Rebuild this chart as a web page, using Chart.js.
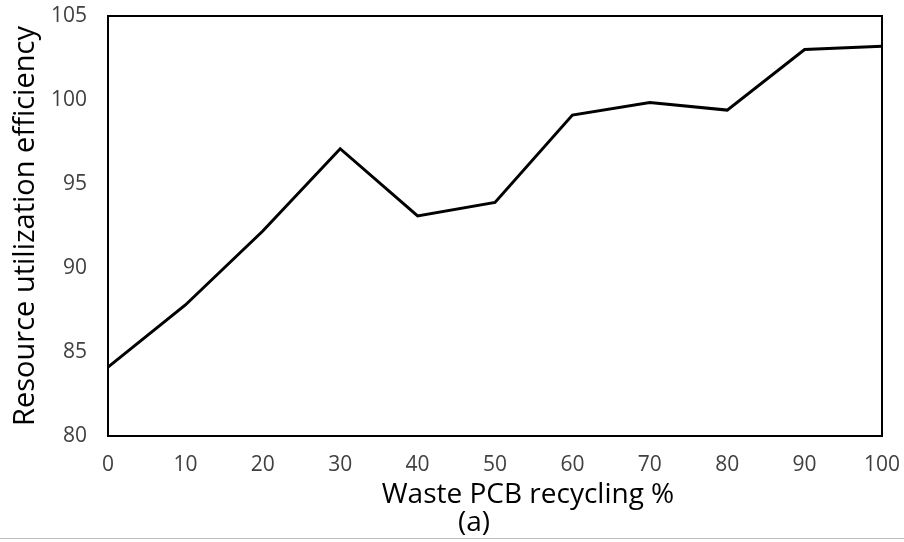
<!DOCTYPE html>
<html>
<head>
<meta charset="utf-8">
<script src="https://cdn.jsdelivr.net/npm/chart.js@4"></script>
<style>
  html, body { margin: 0; padding: 0; background: #fff; }
  #wrap { position: relative; width: 904px; height: 542px; }
  #rule { position: absolute; left: 0; top: 538px; width: 904px; height: 1px; background: #bdbdbd; }
</style>
</head>
<body>
<div id="wrap">
  <canvas id="c" width="904" height="542"></canvas>
  <div id="rule"></div>
</div>
<script>
const recyclingPct = ['0', '10', '20', '30', '40', '50', '60', '70', '80', '90', '100'];
const efficiency = [84.1, 87.8, 92.2, 97.1, 93.1, 93.9, 99.1, 99.85, 99.4, 103.0, 103.2];
const yTicks = [80, 85, 90, 95, 100, 105];
const xTitleLines = ['Waste PCB recycling %', '(a)'];

const FONT = "'Open Sans', 'DejaVu Sans', sans-serif";

const boxPlugin = {
  id: 'box',
  afterDraw(chart) {
    const a = chart.chartArea, ctx = chart.ctx;
    ctx.save();
    ctx.strokeStyle = '#000';
    ctx.lineWidth = 2;
    ctx.strokeRect(a.left, a.top, a.right - a.left, a.bottom - a.top);
    const cx = (a.left + a.right) / 2;
    ctx.fillStyle = '#000';
    ctx.textAlign = 'center';
    ctx.textBaseline = 'middle';
    ctx.font = "28px " + FONT;
    ctx.fillText(xTitleLines[0], cx + 33, a.bottom + 59);
    ctx.fillText(xTitleLines[1], cx - 21, a.bottom + 87);
    ctx.restore();
  }
};

new Chart(document.getElementById('c'), {
  type: 'line',
  data: {
    labels: recyclingPct,
    datasets: [{
      data: efficiency,
      borderColor: '#000',
      borderWidth: 3,
      pointRadius: 0,
      tension: 0,
      fill: false
    }]
  },
  options: {
    responsive: false,
    animation: false,
    devicePixelRatio: 1,
    layout: { padding: { left: 0, right: 22, top: 16, bottom: 0 } },
    plugins: { legend: { display: false }, tooltip: { enabled: false } },
    scales: {
      x: {
        type: 'category',
        offset: false,
        afterFit(axis) { axis.height = 106; axis.paddingLeft = 0; axis.paddingRight = 0; },
        grid: { display: false, drawTicks: false },
        border: { display: true, color: '#000', width: 2 },
        ticks: { color: '#404040', font: { family: FONT, size: 21 }, padding: 16, maxRotation: 0, autoSkip: false },
        title: { display: false }
      },
      y: {
        min: 80, max: 105,
        afterFit(axis) { axis.width = 108; axis.paddingTop = 0; axis.paddingBottom = 0; },
        afterBuildTicks(axis) { axis.ticks = yTicks.map(v => ({ value: v })); },
        grid: { display: false, drawTicks: false },
        border: { display: true, color: '#000', width: 2 },
        ticks: { color: '#404040', font: { family: FONT, size: 21 }, padding: 21 },
        title: {
          display: true,
          text: 'Resource utilization efficiency',
          color: '#000',
          font: { family: FONT, size: 29, lineHeight: 1.2 },
          padding: { top: 8, bottom: 0 }
        }
      }
    }
  },
  plugins: [boxPlugin]
});
</script>
</body>
</html>
